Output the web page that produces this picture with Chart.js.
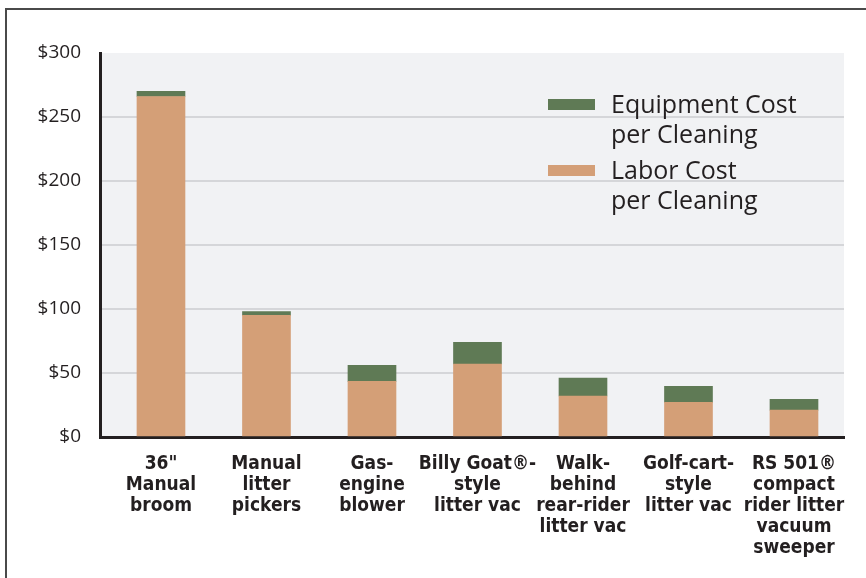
<!DOCTYPE html>
<html>
<head>
<meta charset="utf-8">
<script src="https://cdn.jsdelivr.net/npm/chart.js@4.4.1/dist/chart.umd.min.js"></script>
<style>
  body { margin: 0; background: #fff; }
  #wrap { position: relative; width: 866px; height: 578px; overflow: hidden; }
  #frame { position: absolute; left: 5px; top: 8px; right: -10px; bottom: -10px;
           border-left: 2px solid #4a4a4a; border-top: 2px solid #4a4a4a; }
  #chart { position: absolute; left: 0; top: 0; }
</style>
</head>
<body>
<div id="wrap">
  <div id="frame"></div>
  <canvas id="chart" width="866" height="578"></canvas>
</div>
<script>
// categories (one array of lines per bar)
const categories = [
    ['36"', 'Manual', 'broom'],
    ['Manual', 'litter', 'pickers'],
    ['Gas-', 'engine', 'blower'],
    ['Billy Goat®-', 'style', 'litter vac'],
    ['Walk-', 'behind', 'rear-rider', 'litter vac'],
    ['Golf-cart-', 'style', 'litter vac'],
    ['RS 501®', 'compact', 'rider litter', 'vacuum', 'sweeper']
]

// dollars per cleaning
const laborCost = [266, 95, 43.5, 57, 32, 27, 21]
const equipmentCost = [4, 3, 12.5, 17, 14, 12.5, 8.5]

const yTicks = [0, 50, 100, 150, 200, 250, 300]

const laborLabel = ['Labor Cost', 'per Cleaning']
const equipmentLabel = ['Equipment Cost', 'per Cleaning']

const GREEN = '#5f7a55'
const TAN = '#d49f77'
const INK = '#231f20'

function toPoints(values) {
    return values.map(function (v, i) { return {x: i, y: v} })
}

// light grey plot background
const plotBackground = {
    id: 'plotBackground',
    beforeDraw(chart) {
        const a = chart.chartArea
        const ctx = chart.ctx
        ctx.save()
        ctx.fillStyle = '#f1f2f4'
        ctx.fillRect(a.left, a.top, a.right - a.left, a.bottom - a.top)
        ctx.restore()
    }
}

// two-line legend in the upper right of the plot
const stackedLegend = {
    id: 'stackedLegend',
    afterDraw(chart) {
        const ctx = chart.ctx
        const sets = chart.data.datasets.slice().reverse()
        ctx.save()
        ctx.font = '25px "Open Sans"'
        ctx.textBaseline = 'alphabetic'
        sets.forEach(function (ds, k) {
            const top = 99 + k * 66
            ctx.fillStyle = ds.backgroundColor
            ctx.fillRect(548, top, 47, 11)
            ctx.fillStyle = INK
            ds.legendLines.forEach(function (line, j) {
                ctx.fillText(line, 611, top + 14 + j * 30)
            })
        })
        ctx.restore()
    }
}

new Chart(document.getElementById('chart'), {
    type: 'bar',
    data: {
        datasets: [
            {
                label: laborLabel.join(' '),
                legendLines: laborLabel,
                data: toPoints(laborCost),
                backgroundColor: TAN,
                barThickness: 48
            },
            {
                label: equipmentLabel.join(' '),
                legendLines: equipmentLabel,
                data: toPoints(equipmentCost),
                backgroundColor: GREEN,
                barThickness: 48
            }
        ]
    },
    options: {
        responsive: false,
        devicePixelRatio: 1,
        animation: false,
        layout: {padding: {top: 53, right: 22, left: 0, bottom: 0}},
        plugins: {
            legend: {display: false},
            tooltip: {enabled: false}
        },
        scales: {
            x: {
                type: 'linear',
                stacked: true,
                offset: false,
                min: -0.578,
                max: 6.474,
                afterBuildTicks(scale) {
                    scale.ticks = categories.map(function (c, i) { return {value: i} })
                },
                afterFit(scale) { scale.height = 141 },
                grid: {display: false, drawTicks: false},
                border: {color: INK, width: 3},
                ticks: {
                    autoSkip: false,
                    maxRotation: 0,
                    padding: 17,
                    color: INK,
                    font: {family: '"DejaVu Sans", sans-serif', size: 19, weight: 'bold condensed', lineHeight: 1.1},
                    callback(value) { return categories[value] || '' }
                }
            },
            y: {
                stacked: true,
                min: 0,
                max: 300,
                afterBuildTicks(scale) {
                    scale.ticks = yTicks.map(function (v) { return {value: v} })
                },
                afterFit(scale) { scale.width = 100 },
                grid: {
                    drawTicks: false,
                    lineWidth: 2,
                    color(ctx) { return ctx.tick && ctx.tick.value === 300 ? 'rgba(0,0,0,0)' : '#d5d6d9' }
                },
                border: {color: INK, width: 3},
                ticks: {
                    padding: 19,
                    color: INK,
                    font: {family: '"Open Sans", sans-serif', size: 19},
                    callback(value) { return '$' + value }
                }
            }
        }
    },
    plugins: [plotBackground, stackedLegend]
})
</script>
</body>
</html>
